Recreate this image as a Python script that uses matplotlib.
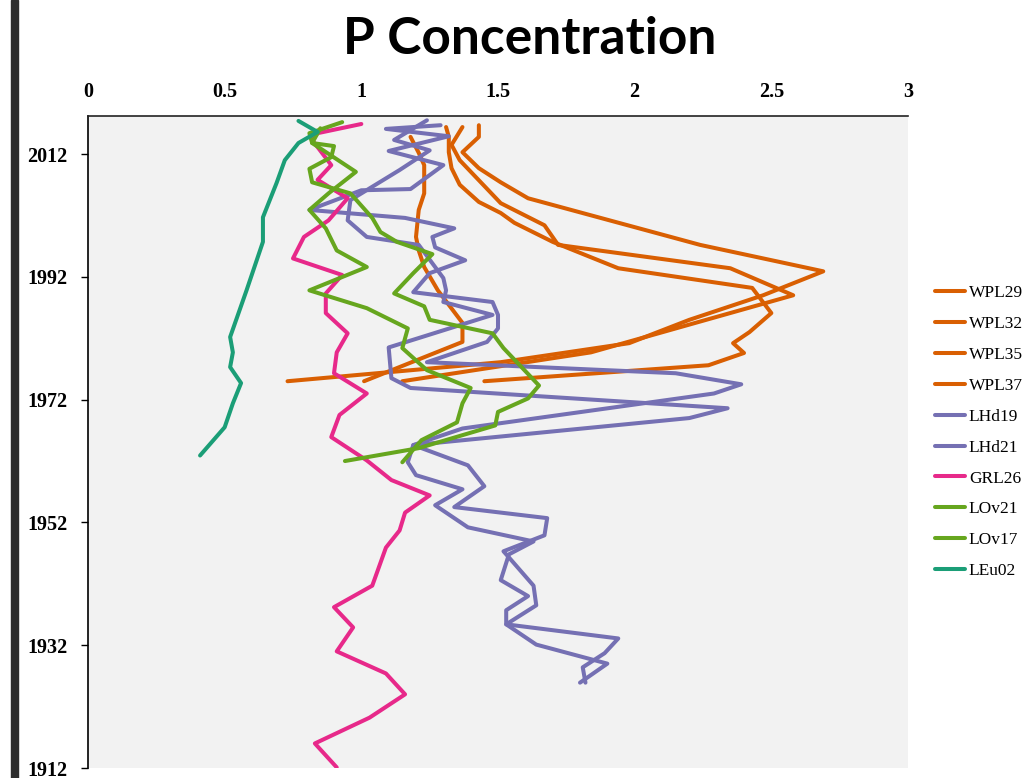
import matplotlib.pyplot as plt
from matplotlib.patches import Rectangle

# colours (Dark2-like)
ORANGE = '#d95f02'
PURPLE = '#7570b3'
PINK = '#e7298a'
GREEN = '#66a61e'
TEAL = '#1b9e77'

# series: (concentration, year)
wpl29_x = [1.18, 1.21, 1.23, 1.23, 1.21, 1.20, 1.21, 1.23, 1.28, 1.37, 1.37, 1.01]
wpl29_y = [2014.8, 2012.2, 2010.2, 2005.6, 2002.9, 1998.5, 1996.3, 1993.6, 1989.8, 1984.5, 1981.4, 1975.0]

wpl32_x = [1.43, 1.43, 1.37, 1.43, 1.51, 1.61, 2.24, 2.69, 2.47, 2.20, 1.98, 1.51, 0.73]
wpl32_y = [2016.7, 2014.8, 2012.3, 2009.7, 2007.4, 2004.8, 1997.2, 1992.9, 1989.0, 1985.0, 1981.2, 1978.1, 1975.0]

wpl35_x = [1.37, 1.33, 1.36, 1.51, 1.67, 1.72, 2.35, 2.58, 1.84, 1.15]
wpl35_y = [2016.4, 2013.5, 2011.0, 2004.0, 2000.4, 1997.2, 1993.4, 1989.0, 1979.7, 1975.0]

wpl37_x = [1.31, 1.32, 1.32, 1.33, 1.36, 1.43, 1.51, 1.56, 1.70, 1.94, 2.43, 2.50, 2.42, 2.36, 2.40, 2.27, 1.45]
wpl37_y = [2016.4, 2014.8, 2012.3, 2009.7, 2007.0, 2004.2, 2002.4, 2000.8, 1997.7, 1993.4, 1990.2, 1986.1, 1983.0,
           1981.2, 1979.6, 1977.6, 1975.0]

lhd19_x = [1.29, 1.09, 1.32, 1.10, 1.30, 1.18, 1.00, 0.81, 1.16, 1.34, 1.26, 1.27, 1.38, 1.25, 1.19, 1.48, 1.50,
           1.50, 1.46, 1.24, 2.15, 2.39, 2.29, 1.37, 1.19, 1.39, 1.45, 1.34, 1.68, 1.67, 1.52, 1.54, 1.63, 1.64,
           1.53, 1.94, 1.89, 1.81, 1.82]
lhd19_y = [2016.7, 2016.1, 2014.9, 2012.5, 2010.2, 2006.3, 2006.1, 2002.9, 2001.6, 1999.9, 1998.5, 1996.8, 1994.7,
           1992.6, 1989.5, 1987.9, 1985.8, 1983.6, 1981.4, 1978.1, 1976.3, 1974.5, 1973.0, 1967.3, 1964.6, 1961.3,
           1957.9, 1954.5, 1952.7, 1949.9, 1947.3, 1946.3, 1941.7, 1938.5, 1935.4, 1933.1, 1930.7, 1928.4, 1925.9]

lhd21_x = [1.24, 1.12, 1.25, 1.14, 0.96, 0.95, 1.02, 1.21, 1.30, 1.31, 1.30, 1.48, 1.10, 1.11, 1.18, 1.88, 2.34,
           2.20, 1.19, 1.17, 1.20, 1.37, 1.27, 1.39, 1.63, 1.54, 1.51, 1.61, 1.53, 1.53, 1.64, 1.90, 1.80]
lhd21_y = [2017.5, 2014.3, 2012.6, 2009.4, 2004.5, 2001.2, 1998.5, 1997.2, 1991.8, 1989.8, 1987.9, 1985.8, 1980.5,
           1975.5, 1973.9, 1971.9, 1970.6, 1969.0, 1964.6, 1961.8, 1959.7, 1957.4, 1954.8, 1951.2, 1948.9, 1946.8,
           1942.6, 1940.0, 1937.7, 1935.4, 1932.1, 1929.0, 1925.9]

grl26_x = [1.00, 0.84, 0.82, 0.89, 0.84, 0.95, 0.88, 0.79, 0.75, 0.93, 0.87, 0.87, 0.95, 0.91, 0.90, 1.02, 0.92,
           0.89, 1.02, 1.11, 1.25, 1.16, 1.14, 1.09, 1.04, 0.90, 0.97, 0.91, 1.09, 1.16, 1.03, 0.83, 0.91]
grl26_y = [2016.9, 2015.4, 2014.3, 2010.2, 2007.8, 2004.8, 2001.2, 1998.5, 1995.0, 1992.3, 1989.3, 1986.1, 1982.8,
           1979.7, 1976.3, 1973.0, 1969.5, 1965.9, 1962.1, 1958.9, 1956.4, 1953.6, 1950.7, 1947.9, 1941.7, 1938.2,
           1934.9, 1931.0, 1927.4, 1924.0, 1920.2, 1916.0, 1912.1]

lov21_x = [0.93, 0.81, 0.82, 0.90, 0.89, 0.81, 0.82, 0.96, 1.04, 1.07, 1.13, 1.26, 1.19, 1.12, 1.23, 1.25, 1.48,
           1.52, 1.65, 1.61, 1.50, 1.49, 1.21, 0.94]
lov21_y = [2017.2, 2015.4, 2013.8, 2013.3, 2011.5, 2009.6, 2007.4, 2005.6, 2001.6, 1999.3, 1997.7, 1995.7, 1992.6,
           1989.3, 1987.2, 1985.0, 1982.8, 1980.4, 1974.3, 1972.2, 1970.0, 1967.8, 1964.1, 1962.0]

lov17_x = [0.85, 0.82, 0.98, 0.88, 0.81, 0.87, 0.91, 1.02, 0.81, 1.02, 1.17, 1.15, 1.24, 1.40, 1.37, 1.35, 1.22, 1.15]
lov17_y = [2016.2, 2013.8, 2009.1, 2005.6, 2002.9, 1999.9, 1996.3, 1993.6, 1989.8, 1986.9, 1983.6, 1980.4, 1976.8,
           1973.9, 1971.4, 1968.3, 1965.4, 1961.8]

leu02_x = [0.77, 0.84, 0.77, 0.72, 0.69, 0.64, 0.64, 0.58, 0.52, 0.53, 0.52, 0.56, 0.53, 0.50, 0.41]
leu02_y = [2017.4, 2015.6, 2013.8, 2011.0, 2007.3, 2001.7, 1997.7, 1989.8, 1982.2, 1979.7, 1977.3, 1974.7, 1971.4,
           1967.5, 1962.9]

series = [
  ('WPL29', wpl29_x, wpl29_y, ORANGE),
  ('WPL32', wpl32_x, wpl32_y, ORANGE),
  ('WPL35', wpl35_x, wpl35_y, ORANGE),
  ('WPL37', wpl37_x, wpl37_y, ORANGE),
  ('LHd19', lhd19_x, lhd19_y, PURPLE),
  ('LHd21', lhd21_x, lhd21_y, PURPLE),
  ('GRL26', grl26_x, grl26_y, PINK),
  ('LOv21', lov21_x, lov21_y, GREEN),
  ('LOv17', lov17_x, lov17_y, GREEN),
  ('LEu02', leu02_x, leu02_y, TEAL),
]

x_ticks = [0, 0.5, 1, 1.5, 2, 2.5, 3]
x_labels = ['0', '0.5', '1', '1.5', '2', '2.5', '3']
y_ticks = [1912, 1932, 1952, 1972, 1992, 2012]

fig = plt.figure(figsize=(10.24, 7.78), dpi=100)
ax = fig.add_axes([88 / 1024, 1 - 768 / 778, 820 / 1024, (768 - 116) / 778])
ax.set_facecolor('#f2f2f2')

for name, xs, ys, colour in series:
  ax.plot(xs, ys, color=colour, lw=2.9, label=name, solid_joinstyle='round', solid_capstyle='round')

ax.set_xlim(0, 3)
ax.set_ylim(1912, 2018.2)

ax.xaxis.tick_top()
ax.set_xticks(x_ticks)
ax.set_xticklabels(x_labels)
ax.set_yticks(y_ticks)
ax.tick_params(axis='x', length=0, pad=10)
ax.tick_params(axis='y', length=5, width=1, pad=10, direction='out')
for lbl in ax.get_xticklabels() + ax.get_yticklabels():
  lbl.set_fontfamily('Liberation Serif')
  lbl.set_fontweight('bold')
  lbl.set_fontsize(14.5)

ax.spines['right'].set_visible(False)
ax.spines['bottom'].set_visible(False)
ax.spines['top'].set_color('#222222')
ax.spines['top'].set_linewidth(1.2)
ax.spines['left'].set_linewidth(1.2)

leg = fig.legend(loc='upper left', bbox_to_anchor=(928 / 1024, 1 - 278 / 778), frameon=False,
                 prop={'family': 'Liberation Serif', 'size': 12.5}, handlelength=1.75,
                 handletextpad=0.2, labelspacing=0.85, borderaxespad=0)

fig.text(530 / 1024, 1 - 40 / 778, 'P Concentration', ha='center', va='center',
         fontsize=37, fontweight='bold', family='Lato')

# dark bar on the left edge
fig.patches.append(Rectangle((11 / 1024, 0), 7 / 1024, 1, transform=fig.transFigure,
                             color='#2e2e2e', zorder=5))

fig.savefig('out.png', dpi=100)
